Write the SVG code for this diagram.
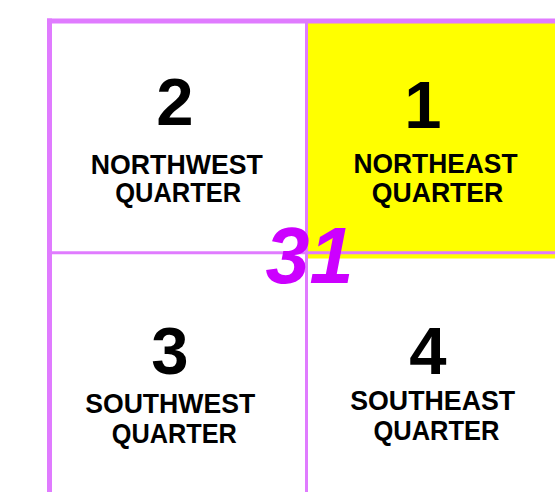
<svg xmlns="http://www.w3.org/2000/svg" width="555" height="492" viewBox="0 0 555 492">
<style>
.ln{stroke:#E07BFF;fill:none}
.num{font-family:"Liberation Sans",Arial,sans-serif;font-weight:bold;font-size:67px;fill:#000;text-anchor:middle}
.lbl{font-family:"Liberation Sans",Arial,sans-serif;font-weight:bold;font-size:28px;fill:#000}
.sec{font-family:"Liberation Sans",Arial,sans-serif;font-weight:bold;font-style:italic;font-size:79px;fill:#CC00FF}
</style>
<rect width="555" height="492" fill="#fff"/>
<rect x="307.5" y="23" width="247.5" height="235.5" fill="#FFFF00"/>
<g id="grid">
<line class="ln" x1="49.5" y1="18.5" x2="49.5" y2="492" stroke-width="5"/>
<line class="ln" x1="47" y1="21" x2="555" y2="21" stroke-width="5"/>
<line class="ln" x1="306.5" y1="21" x2="306.5" y2="492" stroke-width="3"/>
<line class="ln" x1="49.5" y1="252.7" x2="555" y2="252.7" stroke-width="3"/>
</g>
<g id="nw">
<text class="num" x="175" y="125">2</text>
<text class="lbl" x="90.8" y="174" textLength="172" lengthAdjust="spacingAndGlyphs">NORTHWEST</text>
<text class="lbl" x="115.2" y="202" textLength="126" lengthAdjust="spacingAndGlyphs">QUARTER</text>
</g>
<g id="ne">
<text class="num" x="423" y="128">1</text>
<text class="lbl" x="353.5" y="173" textLength="164" lengthAdjust="spacingAndGlyphs">NORTHEAST</text>
<text class="lbl" x="371.8" y="202" textLength="131.5" lengthAdjust="spacingAndGlyphs">QUARTER</text>
</g>
<g id="sw">
<text class="num" x="170" y="374">3</text>
<text class="lbl" x="85.2" y="413" textLength="170" lengthAdjust="spacingAndGlyphs">SOUTHWEST</text>
<text class="lbl" x="111.8" y="443" textLength="125" lengthAdjust="spacingAndGlyphs">QUARTER</text>
</g>
<g id="se">
<text class="num" x="428" y="374">4</text>
<text class="lbl" x="350.2" y="410" textLength="165" lengthAdjust="spacingAndGlyphs">SOUTHEAST</text>
<text class="lbl" x="373.5" y="440" textLength="126" lengthAdjust="spacingAndGlyphs">QUARTER</text>
</g>
<g id="section">
<text class="sec" x="265.5" y="283">31</text>
</g>
</svg>
